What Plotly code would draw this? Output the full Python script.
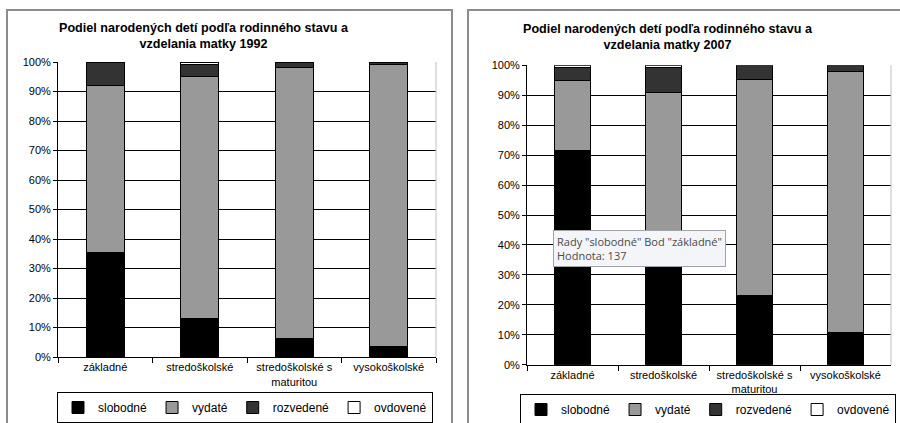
import plotly.graph_objects as go

W, H = 900, 423

categories = ["základné", "stredoškolské", "stredoškolské s<br>maturitou", "vysokoškolské"]
series_names = ["slobodné", "vydaté", "rozvedené", "ovdovené"]
series_colors = ["#000000", "#999999", "#333333", "#ffffff"]

slobodne_1992 = [35.4, 13.0, 6.2, 3.5]
vydate_1992 = [56.8, 82.0, 91.9, 95.7]
rozvedene_1992 = [7.6, 4.2, 1.8, 0.7]
ovdovene_1992 = [0.2, 0.8, 0.1, 0.1]

slobodne_2007 = [71.7, 41.0, 23.2, 10.7]
vydate_2007 = [23.2, 50.0, 72.2, 87.2]
rozvedene_2007 = [4.4, 8.3, 4.5, 2.0]
ovdovene_2007 = [0.7, 0.7, 0.1, 0.1]

y_ticks = list(range(0, 101, 10))
y_ticktext = [f"{v}%" for v in y_ticks]

data_1992 = [slobodne_1992, vydate_1992, rozvedene_1992, ovdovene_1992]
data_2007 = [slobodne_2007, vydate_2007, rozvedene_2007, ovdovene_2007]

FONT = "Liberation Sans, Arial, sans-serif"


def px(x):
    return x / W


def py(y):
    return 1 - y / H


fig = go.Figure()
for name, color, vals in zip(series_names, series_colors, data_1992):
    fig.add_trace(go.Bar(x=categories, y=vals, name=name,
                         marker=dict(color=color, line=dict(color="black", width=1)),
                         xaxis="x", yaxis="y", legend="legend"))
for name, color, vals in zip(series_names, series_colors, data_2007):
    fig.add_trace(go.Bar(x=categories, y=vals, name=name,
                         marker=dict(color=color, line=dict(color="black", width=1)),
                         xaxis="x2", yaxis="y2", legend="legend2"))

xcommon = dict(type="category", tickson="boundaries", ticks="outside", ticklen=5,
               tickcolor="black", showline=True, linecolor="black", linewidth=1,
               showgrid=False, tickfont=dict(size=11, color="black"))
ycommon = dict(range=[0, 100], tickvals=y_ticks, ticktext=y_ticktext, ticks="outside",
               ticklen=4, tickcolor="black", showline=True, linecolor="black",
               linewidth=1, showgrid=True, gridcolor="black", gridwidth=1,
               zeroline=False, tickfont=dict(size=11, color="black"))

legcommon = dict(orientation="h", xanchor="center", yanchor="top",
                 bordercolor="black", borderwidth=1, bgcolor="white",
                 font=dict(size=12, color="black"), traceorder="normal",
                 itemwidth=30)

fig.update_layout(
    width=W, height=H,
    margin=dict(l=0, r=0, t=0, b=0, autoexpand=False),
    paper_bgcolor="white", plot_bgcolor="white",
    font=dict(family=FONT, color="black"),
    barmode="stack", bargap=0.6,
    xaxis=dict(domain=[px(58), px(436)], anchor="y", **xcommon),
    yaxis=dict(domain=[py(357), py(62)], anchor="x", **ycommon),
    xaxis2=dict(domain=[px(527), px(891)], anchor="y2", **xcommon),
    yaxis2=dict(domain=[py(364.7), py(65.3)], anchor="x2", **ycommon),
    legend=dict(x=px(245), y=py(392), **legcommon),
    legend2=dict(x=px(708), y=py(394), **legcommon),
    hovermode=False,
)

# outer chart frames
fig.add_shape(type="rect", xref="paper", yref="paper", x0=px(7), x1=px(452),
              y0=-0.05, y1=py(10), line=dict(color="#8c8c8c", width=2), layer="below")
fig.add_shape(type="rect", xref="paper", yref="paper", x0=px(468), x1=1.05,
              y0=-0.05, y1=py(10), line=dict(color="#8c8c8c", width=2), layer="below")

# light right border of plot areas
for xr, yr in (("x domain", "y domain"), ("x2 domain", "y2 domain")):
    fig.add_shape(type="line", xref=xr, yref=yr, x0=1, x1=1, y0=0, y1=1,
                  line=dict(color="#c0c0c0", width=1))

# titles
fig.add_annotation(text="<b>Podiel narodených detí podľa rodinného stavu a<br>vzdelania matky 1992</b>",
                   x=px(204), y=py(36), xref="paper", yref="paper", showarrow=False,
                   xanchor="center", yanchor="middle", font=dict(size=12.6, color="black"))
fig.add_annotation(text="<b>Podiel narodených detí podľa rodinného stavu a<br>vzdelania matky 2007</b>",
                   x=px(668), y=py(37), xref="paper", yref="paper", showarrow=False,
                   xanchor="center", yanchor="middle", font=dict(size=12.6, color="black"))

# tooltip seen in the screenshot
fig.add_annotation(text='Rady "slobodné" Bod "základné"<br>Hodnota: 137',
                   x=px(553), y=py(230), xref="paper", yref="paper", showarrow=False,
                   xanchor="left", yanchor="top", align="left",
                   bgcolor="#f3f5f8", bordercolor="#a0a4aa", borderwidth=1, borderpad=3,
                   font=dict(size=11, color="#4a4a4a", family="Open Sans, sans-serif"))

fig.write_html("out.html", config={"displayModeBar": False},
               post_script="document.body.style.margin='0';")
